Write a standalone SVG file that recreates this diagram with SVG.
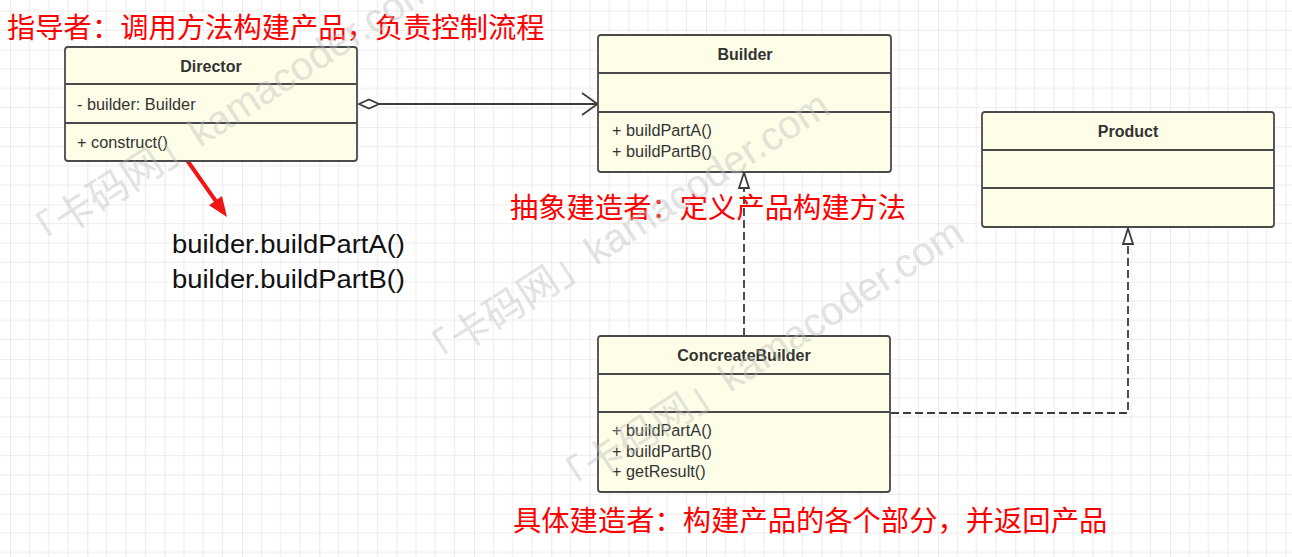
<svg xmlns="http://www.w3.org/2000/svg" width="1292" height="557" viewBox="0 0 1292 557">
<style>
.box{fill:#fefee8;stroke:#4a4a4a;stroke-width:1.8}
.sep{stroke:#4a4a4a;stroke-width:1.8}
.title{font-family:"Liberation Sans",Arial,sans-serif;font-size:16px;font-weight:bold;fill:#333;text-anchor:middle}
.mem{font-family:"Liberation Sans",Arial,sans-serif;font-size:16.3px;fill:#333}
.note{font-family:"Liberation Sans","Noto Sans CJK SC",sans-serif;font-size:28.3px;fill:#ff0000}
.code{font-family:"Liberation Sans",Arial,sans-serif;font-size:26px;fill:#111}
.conn{fill:none;stroke:#3c3c3c;stroke-width:1.8}
.dash{stroke-dasharray:8 4}
.wm{font-family:"Liberation Sans","Noto Sans CJK SC",sans-serif;font-size:40px;fill:#bdbdbd;opacity:0.42}
</style>
<defs>
<pattern id="grid" patternUnits="userSpaceOnUse" x="10" y="-27.6" width="77.33" height="77.33">
<path d="M19.33 0V77.33M38.67 0V77.33M58 0V77.33M0 19.33H77.33M0 38.67H77.33M0 58H77.33" stroke="#ececec" stroke-width="1" fill="none"/>
<path d="M0 0V77.33M0 0H77.33" stroke="#dddddd" stroke-width="1.2" fill="none"/>
</pattern>
</defs>
<rect width="1292" height="557" fill="#ffffff"/>
<rect width="1292" height="557" fill="url(#grid)"/>

<g id="connectors">
<polygon points="359,104 369,99.5 379,104 369,108.5" fill="#ffffff" stroke="#3c3c3c" stroke-width="1.8"/>
<line x1="379" y1="104" x2="597" y2="104" class="conn"/>
<polyline points="582,93 597.5,104 582,115" class="conn"/>
<line x1="744" y1="336" x2="744" y2="188" class="conn dash"/>
<polygon points="744,172.5 739,188 749,188" fill="#ffffff" stroke="#3c3c3c" stroke-width="1.8"/>
<polyline points="891,413 1128,413 1128,244" class="conn dash"/>
<polygon points="1128,228.5 1123,244 1133,244" fill="#ffffff" stroke="#3c3c3c" stroke-width="1.8"/>
<line x1="182" y1="153" x2="215.5" y2="200.6" stroke="#f01414" stroke-width="4" stroke-linecap="round"/>
<polygon points="227,217 209,205.2 222,196" fill="#f01414"/>
</g>

<g id="director">
<rect x="65" y="47" width="292" height="114" rx="3" class="box"/>
<line x1="65" y1="84" x2="357" y2="84" class="sep"/>
<line x1="65" y1="123" x2="357" y2="123" class="sep"/>
<text x="211" y="72" class="title">Director</text>
<text x="77" y="110" class="mem">- builder: Builder</text>
<text x="77" y="148" class="mem">+ construct()</text>
</g>

<g id="builder">
<rect x="598" y="35" width="293" height="137" rx="3" class="box"/>
<line x1="598" y1="73" x2="891" y2="73" class="sep"/>
<line x1="598" y1="112" x2="891" y2="112" class="sep"/>
<text x="745" y="60" class="title">Builder</text>
<text x="612" y="136" class="mem">+ buildPartA()</text>
<text x="612" y="157" class="mem">+ buildPartB()</text>
</g>

<g id="product">
<rect x="982" y="112" width="292" height="115" rx="3" class="box"/>
<line x1="982" y1="150" x2="1274" y2="150" class="sep"/>
<line x1="982" y1="188" x2="1274" y2="188" class="sep"/>
<text x="1128" y="137" class="title">Product</text>
</g>

<g id="concreatebuilder">
<rect x="598" y="336" width="292" height="156" rx="3" class="box"/>
<line x1="598" y1="374" x2="890" y2="374" class="sep"/>
<line x1="598" y1="412" x2="890" y2="412" class="sep"/>
<text x="744" y="361" class="title">ConcreateBuilder</text>
<text x="612" y="436" class="mem">+ buildPartA()</text>
<text x="612" y="457" class="mem">+ buildPartB()</text>
<text x="612" y="477" class="mem">+ getResult()</text>
</g>

<g id="notes">
<text x="7" y="37.5" class="note">指导者：调用方法构建产品，负责控制流程</text>
<text x="510" y="218" class="note">抽象建造者：定义产品构建方法</text>
<text x="513" y="531" class="note">具体建造者：构建产品的各个部分，并返回产品</text>
<text x="172" y="253" class="code" textLength="233" lengthAdjust="spacingAndGlyphs">builder.buildPartA()</text>
<text x="172" y="288" class="code" textLength="233" lengthAdjust="spacingAndGlyphs">builder.buildPartB()</text>
</g>

<g id="watermark">
<text class="wm" transform="translate(32,257) rotate(-33)">「卡码网」kamacoder.com</text>
<text class="wm" transform="translate(428,375) rotate(-33)">「卡码网」kamacoder.com</text>
<text class="wm" transform="translate(562,502) rotate(-33)">「卡码网」kamacoder.com</text>
</g>
</svg>
